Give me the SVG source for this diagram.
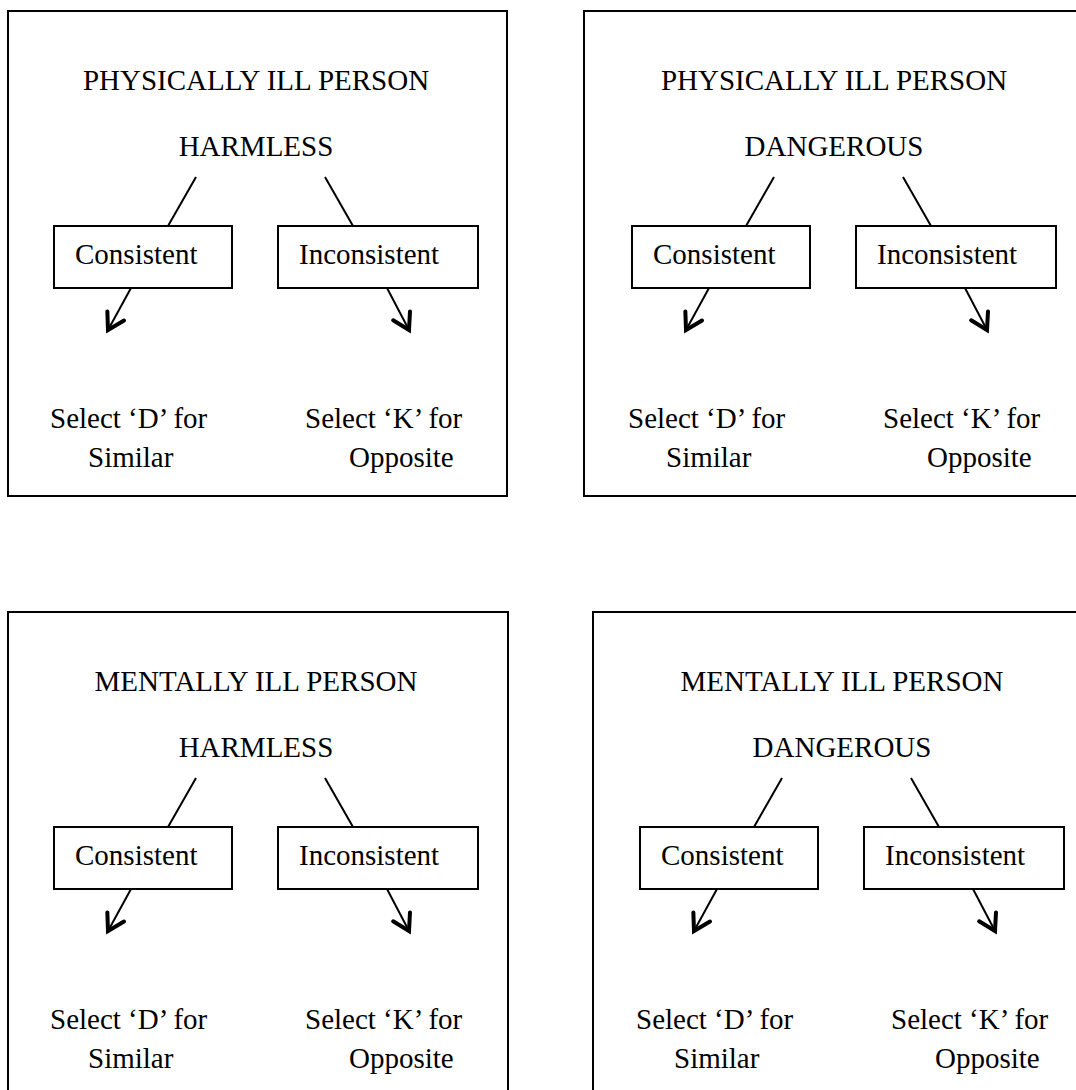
<svg xmlns="http://www.w3.org/2000/svg" width="1076" height="1090" viewBox="0 0 1076 1090">
<defs>
<style>
.frame{fill:none;stroke:#000;stroke-width:2}
.box{fill:#fff;stroke:#000;stroke-width:2}
.t{font-family:"Liberation Serif","Times New Roman",serif;font-size:29px;fill:#000}
.c{text-anchor:middle}
.ln{stroke:#000;stroke-width:2;fill:none}
.ar{stroke:#000;stroke-width:2;fill:none;marker-end:url(#v)}
</style>
<marker id="v" markerUnits="userSpaceOnUse" viewBox="-24 -14 30 28" markerWidth="30" markerHeight="28" refX="0" refY="0" orient="auto">
<path d="M-16,-9.5 L0,0 L-16,9.5" fill="none" stroke="#000" stroke-width="4" stroke-linejoin="miter" stroke-linecap="round"/>
</marker>
</defs>
<rect width="1076" height="1090" fill="#fff"/>

<!-- Panel 1 -->
<g id="p1-frame"><rect class="frame" x="8" y="11" width="499" height="485"/></g>
<g id="p1-title"><text class="t c" x="256" y="90">PHYSICALLY ILL PERSON</text></g>
<g id="p1-attr"><text class="t c" x="256" y="156">HARMLESS</text></g>
<g id="p1-consistent"><rect class="box" x="54" y="226" width="178" height="62"/><text class="t" x="75" y="264">Consistent</text></g>
<g id="p1-inconsistent"><rect class="box" x="278" y="226" width="200" height="62"/><text class="t" x="299" y="264">Inconsistent</text></g>
<g id="p1-similar"><text class="t" x="50" y="428">Select ‘D’ for</text><text class="t" x="88" y="467">Similar</text></g>
<g id="p1-opposite"><text class="t" x="305" y="428">Select ‘K’ for</text><text class="t" x="349" y="467">Opposite</text></g>

<!-- Panel 2 -->
<g id="p2-frame"><rect class="frame" x="584" y="11" width="500" height="485"/></g>
<g id="p2-title"><text class="t c" x="834" y="90">PHYSICALLY ILL PERSON</text></g>
<g id="p2-attr"><text class="t c" x="834" y="156">DANGEROUS</text></g>
<g id="p2-consistent"><rect class="box" x="632" y="226" width="178" height="62"/><text class="t" x="653" y="264">Consistent</text></g>
<g id="p2-inconsistent"><rect class="box" x="856" y="226" width="200" height="62"/><text class="t" x="877" y="264">Inconsistent</text></g>
<g id="p2-similar"><text class="t" x="628" y="428">Select ‘D’ for</text><text class="t" x="666" y="467">Similar</text></g>
<g id="p2-opposite"><text class="t" x="883" y="428">Select ‘K’ for</text><text class="t" x="927" y="467">Opposite</text></g>

<!-- Panel 3 -->
<g id="p3-frame"><rect class="frame" x="8" y="612" width="500" height="490"/></g>
<g id="p3-title"><text class="t c" x="256" y="691">MENTALLY ILL PERSON</text></g>
<g id="p3-attr"><text class="t c" x="256" y="757">HARMLESS</text></g>
<g id="p3-consistent"><rect class="box" x="54" y="827" width="178" height="62"/><text class="t" x="75" y="865">Consistent</text></g>
<g id="p3-inconsistent"><rect class="box" x="278" y="827" width="200" height="62"/><text class="t" x="299" y="865">Inconsistent</text></g>
<g id="p3-similar"><text class="t" x="50" y="1029">Select ‘D’ for</text><text class="t" x="88" y="1068">Similar</text></g>
<g id="p3-opposite"><text class="t" x="305" y="1029">Select ‘K’ for</text><text class="t" x="349" y="1068">Opposite</text></g>

<!-- Panel 4 -->
<g id="p4-frame"><rect class="frame" x="593" y="612" width="500" height="490"/></g>
<g id="p4-title"><text class="t c" x="842" y="691">MENTALLY ILL PERSON</text></g>
<g id="p4-attr"><text class="t c" x="842" y="757">DANGEROUS</text></g>
<g id="p4-consistent"><rect class="box" x="640" y="827" width="178" height="62"/><text class="t" x="661" y="865">Consistent</text></g>
<g id="p4-inconsistent"><rect class="box" x="864" y="827" width="200" height="62"/><text class="t" x="885" y="865">Inconsistent</text></g>
<g id="p4-similar"><text class="t" x="636" y="1029">Select ‘D’ for</text><text class="t" x="674" y="1068">Similar</text></g>
<g id="p4-opposite"><text class="t" x="891" y="1029">Select ‘K’ for</text><text class="t" x="935" y="1068">Opposite</text></g>

<g id="connectors">
<line class="ln" x1="196" y1="177" x2="168" y2="226"/>
<line class="ln" x1="325" y1="177" x2="353" y2="226"/>
<line class="ar" x1="131" y1="288" x2="108" y2="330"/>
<line class="ar" x1="387" y1="288" x2="409" y2="330"/>

<line class="ln" x1="774" y1="177" x2="746" y2="226"/>
<line class="ln" x1="903" y1="177" x2="931" y2="226"/>
<line class="ar" x1="709" y1="288" x2="686" y2="330"/>
<line class="ar" x1="965" y1="288" x2="987" y2="330"/>

<line class="ln" x1="196" y1="778" x2="168" y2="827"/>
<line class="ln" x1="325" y1="778" x2="353" y2="827"/>
<line class="ar" x1="131" y1="889" x2="108" y2="931"/>
<line class="ar" x1="387" y1="889" x2="409" y2="931"/>

<line class="ln" x1="782" y1="778" x2="754" y2="827"/>
<line class="ln" x1="911" y1="778" x2="939" y2="827"/>
<line class="ar" x1="717" y1="889" x2="694" y2="931"/>
<line class="ar" x1="973" y1="889" x2="995" y2="931"/>
</g>
</svg>
